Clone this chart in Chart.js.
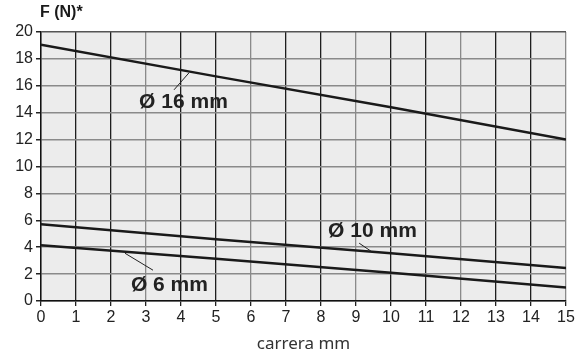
<!DOCTYPE html>
<html>
<head>
<meta charset="utf-8">
<script src="https://cdn.jsdelivr.net/npm/chart.js@4"></script>
<style>
  html, body { margin: 0; padding: 0; background: #fff; }
  #wrap { width: 584px; height: 359px; }
</style>
</head>
<body>
<div id="wrap"><canvas id="chart"></canvas></div>
<script>
// carrera (mm) where the curves were read
const strokeMm = [0, 5, 10, 15];
// force F (N) per diameter
const force16 = [19.05, 16.7, 14.4, 12.0];
const force10 = [5.7, 4.6, 3.55, 2.45];
const force6 = [4.15, 3.15, 2.1, 1.0];
const seriesNames = ["Ø 16 mm", "Ø 10 mm", "Ø 6 mm"];

const yTitle = "F (N)*";
const xTitle = "carrera mm";

// label + leader line, in data units
const callouts = [
  { text: seriesNames[0], x: 4.07, y: 14.8, from: [3.8, 15.7], to: [4.23, 16.97] },
  { text: seriesNames[1], x: 9.47, y: 5.19, from: [9.09, 4.3], to: [9.43, 3.7] },
  { text: seriesNames[2], x: 3.67, y: 1.17, from: [2.4, 3.55], to: [3.2, 2.29] }
];

function toPoints(ys) {
  return ys.map((v, i) => ({ x: strokeMm[i], y: v }));
}

const plotBg = {
  id: "plotBg",
  beforeDraw(chart) {
    const a = chart.chartArea, c = chart.ctx;
    c.save();
    c.fillStyle = "#ececec";
    c.fillRect(a.left, a.top, a.right - a.left, a.bottom - a.top);
    c.restore();
  },
  afterDraw(chart) {
    const c = chart.ctx, sx = chart.scales.x, sy = chart.scales.y;
    c.save();
    // y title
    c.fillStyle = "#1a1a1a";
    c.font = "bold 16px 'Liberation Sans', Arial, sans-serif";
    c.textAlign = "left";
    c.textBaseline = "middle";
    c.fillText(yTitle, 40, 13);
    // callouts
    callouts.forEach(o => {
      c.strokeStyle = "#222";
      c.lineWidth = 1;
      c.beginPath();
      c.moveTo(sx.getPixelForValue(o.from[0]), sy.getPixelForValue(o.from[1]));
      c.lineTo(sx.getPixelForValue(o.to[0]), sy.getPixelForValue(o.to[1]));
      c.stroke();
      c.font = "bold 21px 'Liberation Sans', Arial, sans-serif";
      c.textAlign = "center";
      c.fillStyle = "#222";
      c.fillText(o.text, sx.getPixelForValue(o.x), sy.getPixelForValue(o.y));
    });
    c.restore();
  }
};

const lineStyle = { borderColor: "#1a1a1a", borderWidth: 2.5, pointRadius: 0, fill: false, tension: 0 };

new Chart(document.getElementById("chart"), {
  type: "line",
  data: {
    datasets: [
      Object.assign({ label: seriesNames[0], data: toPoints(force16) }, lineStyle),
      Object.assign({ label: seriesNames[1], data: toPoints(force10) }, lineStyle),
      Object.assign({ label: seriesNames[2], data: toPoints(force6) }, lineStyle)
    ]
  },
  options: {
    responsive: true,
    maintainAspectRatio: false,
    animation: false,
    layout: { padding: { top: 32, right: 18, left: 0, bottom: 0 } },
    plugins: { legend: { display: false }, tooltip: { enabled: false } },
    scales: {
      x: {
        type: "linear",
        min: 0, max: 15,
        ticks: { stepSize: 1, color: "#222", padding: 2, font: { size: 16, family: "'Liberation Sans', Arial, sans-serif" } },
        grid: {
          color: ctx => (ctx.index % 3 === 0 ? "#8a8a8a" : "#1e1e1e"),
          lineWidth: 1.3,
          tickLength: 5,
          tickColor: "#222"
        },
        border: { color: "#111", width: 1.5 },
        title: {
          display: true, text: xTitle, color: "#333",
          font: { size: 17, family: "'Noto Sans', sans-serif" },
          padding: { top: 0, bottom: 5 }
        },
        afterFit: s => { s.height = 58; }
      },
      y: {
        min: 0, max: 20,
        ticks: { stepSize: 2, color: "#222", padding: 3, font: { size: 16, family: "'Liberation Sans', Arial, sans-serif" } },
        grid: {
          color: ctx => (ctx.index === 10 ? "#555" : "#8a8a8a"),
          lineWidth: 1.5,
          tickLength: 5,
          tickColor: "#222"
        },
        border: { color: "#111", width: 1.5 },
        afterFit: s => { s.width = 41; }
      }
    }
  },
  plugins: [plotBg]
});
</script>
</body>
</html>
